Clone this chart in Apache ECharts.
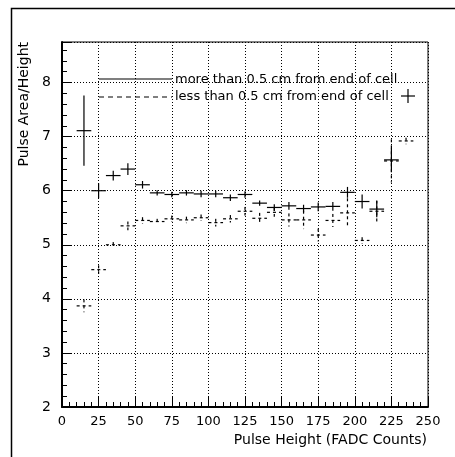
<!DOCTYPE html>
<html>
<head>
<meta charset="utf-8">
<script src="https://cdn.jsdelivr.net/npm/echarts@6/dist/echarts.min.js"></script>
<style>
html,body{margin:0;padding:0;background:#fff;}
#c{width:455px;height:457px;}
</style>
</head>
<body>
<div id="c"></div>
<script>
// Bin centres (FADC counts)
const binCenters = [15,25,35,45,55,65,75,85,95,105,115,125,135,145,155,165,175,185,195,205,215,225,235];
// "more than 0.5 cm from end of cell" (solid)
const farMean = [7.11,6.00,6.28,6.40,6.11,5.96,5.93,5.96,5.94,5.94,5.87,5.93,5.77,5.69,5.72,5.67,5.70,5.71,5.97,5.80,5.66,6.57,null];
const farErr  = [0.65,0.14,0.09,0.11,0.07,0.05,0.05,0.05,0.06,0.06,0.06,0.06,0.05,0.06,0.07,0.07,0.08,0.08,0.10,0.13,0.15,0.22,null];
// "less than 0.5 cm from end of cell" (dashed)
const nearMean = [3.87,4.54,5.00,5.35,5.45,5.43,5.48,5.46,5.50,5.41,5.48,5.62,5.49,5.60,5.46,5.46,5.18,5.45,5.59,5.08,5.62,6.55,6.92];
const nearErr  = [0.12,0.08,0.05,0.08,0.06,0.05,0.06,0.06,0.06,0.07,0.07,0.08,0.10,0.08,0.12,0.17,0.12,0.12,0.27,0.06,0.20,0.40,0.06];
const xTicks = [0,25,50,75,100,125,150,175,200,225,250];
const yTicks = [2,3,4,5,6,7,8];
const binHalfWidth = 5;

function build(means, errs){
  const out = [];
  binCenters.forEach((x,i)=>{ if(means[i]!=null) out.push([x, means[i], errs[i]]); });
  return out;
}
function makeRender(dash){
  return function(params, api){
    const x = api.value(0), y = api.value(1), e = api.value(2);
    const l = api.coord([x-binHalfWidth, y]), r = api.coord([x+binHalfWidth, y]);
    const t = api.coord([x, y+e]), b = api.coord([x, y-e]);
    const st = {stroke:'#000', lineWidth:1.2, lineDash: dash};
    return {type:'group', children:[
      {type:'line', shape:{x1:l[0],y1:l[1],x2:r[0],y2:r[1]}, style:st},
      {type:'line', shape:{x1:t[0],y1:t[1],x2:b[0],y2:b[1]}, style:st}
    ]};
  };
}
const font = 'DejaVu Sans';
const chart = echarts.init(document.getElementById('c'), null, {renderer:'canvas'});
chart.setOption({
  animation:false,
  backgroundColor:'#fff',
  grid:{left:62, top:42, right:27, bottom:50, show:true, borderColor:'#000', borderWidth:1, backgroundColor:'transparent'},
  xAxis:{
    type:'value', min:0, max:250, interval:25,
    axisLine:{show:true, onZero:false, lineStyle:{color:'#000', width:2}},
    axisTick:{show:true, inside:true, length:10, lineStyle:{color:'#000', width:1}},
    minorTick:{show:true, splitNumber:5, length:5, lineStyle:{color:'#000'}},
    axisLabel:{color:'#000', fontFamily:font, fontSize:13, margin:8,
      customValues: xTicks},
    splitLine:{show:true, lineStyle:{color:'#000', width:1, type:[1,2]}}
  },
  yAxis:{
    type:'value', min:2, max:8.75, interval:1,
    axisLine:{show:true, onZero:false, lineStyle:{color:'#000', width:2}},
    axisTick:{show:true, inside:true, length:10, lineStyle:{color:'#000', width:1}},
    minorTick:{show:true, splitNumber:5, length:5, lineStyle:{color:'#000'}},
    axisLabel:{color:'#000', fontFamily:font, fontSize:14, margin:11, showMaxLabel:false,
      formatter:(v)=> yTicks.indexOf(v)>=0 ? String(v) : ''},
    splitLine:{show:true, lineStyle:{color:'#000', width:1, type:[1,2]}}
  },
  series:[
    {name:'more than 0.5 cm from end of cell', type:'custom', renderItem:makeRender(null), data:build(farMean, farErr), z:3},
    {name:'less than 0.5 cm from end of cell', type:'custom', renderItem:makeRender([3,3]), data:build(nearMean, nearErr), z:3}
  ],
  graphic:[
    {type:'rect', left:9, top:6, shape:{width:460, height:460}, style:{fill:'none', stroke:'#000', lineWidth:1.5}, silent:true},
    {type:'text', left:17, top:42, rotation:Math.PI/2, originX:0, originY:0,
      style:{text:'Pulse Area/Height', font:'14px '+font, fill:'#000'}},
    {type:'text', right:28, top:433, style:{text:'Pulse Height (FADC Counts)', font:'14px '+font, fill:'#000'}},
    // legend
    {type:'line', shape:{x1:99, y1:79, x2:172, y2:79}, style:{stroke:'#000', lineWidth:1.2}},
    {type:'text', left:175, top:73, style:{text:'more than 0.5 cm from end of cell', font:'13px '+font, fill:'#000'}},
    {type:'line', shape:{x1:99, y1:97, x2:172, y2:97}, style:{stroke:'#000', lineWidth:1.2, lineDash:[5,4]}},
    {type:'text', left:175, top:90, style:{text:'less than 0.5 cm from end of cell', font:'13px '+font, fill:'#000'}},
    {type:'line', shape:{x1:401, y1:96, x2:415, y2:96}, style:{stroke:'#000', lineWidth:1.2}},
    {type:'line', shape:{x1:408, y1:89, x2:408, y2:103}, style:{stroke:'#000', lineWidth:1.2}}
  ]
});
</script>
</body>
</html>
